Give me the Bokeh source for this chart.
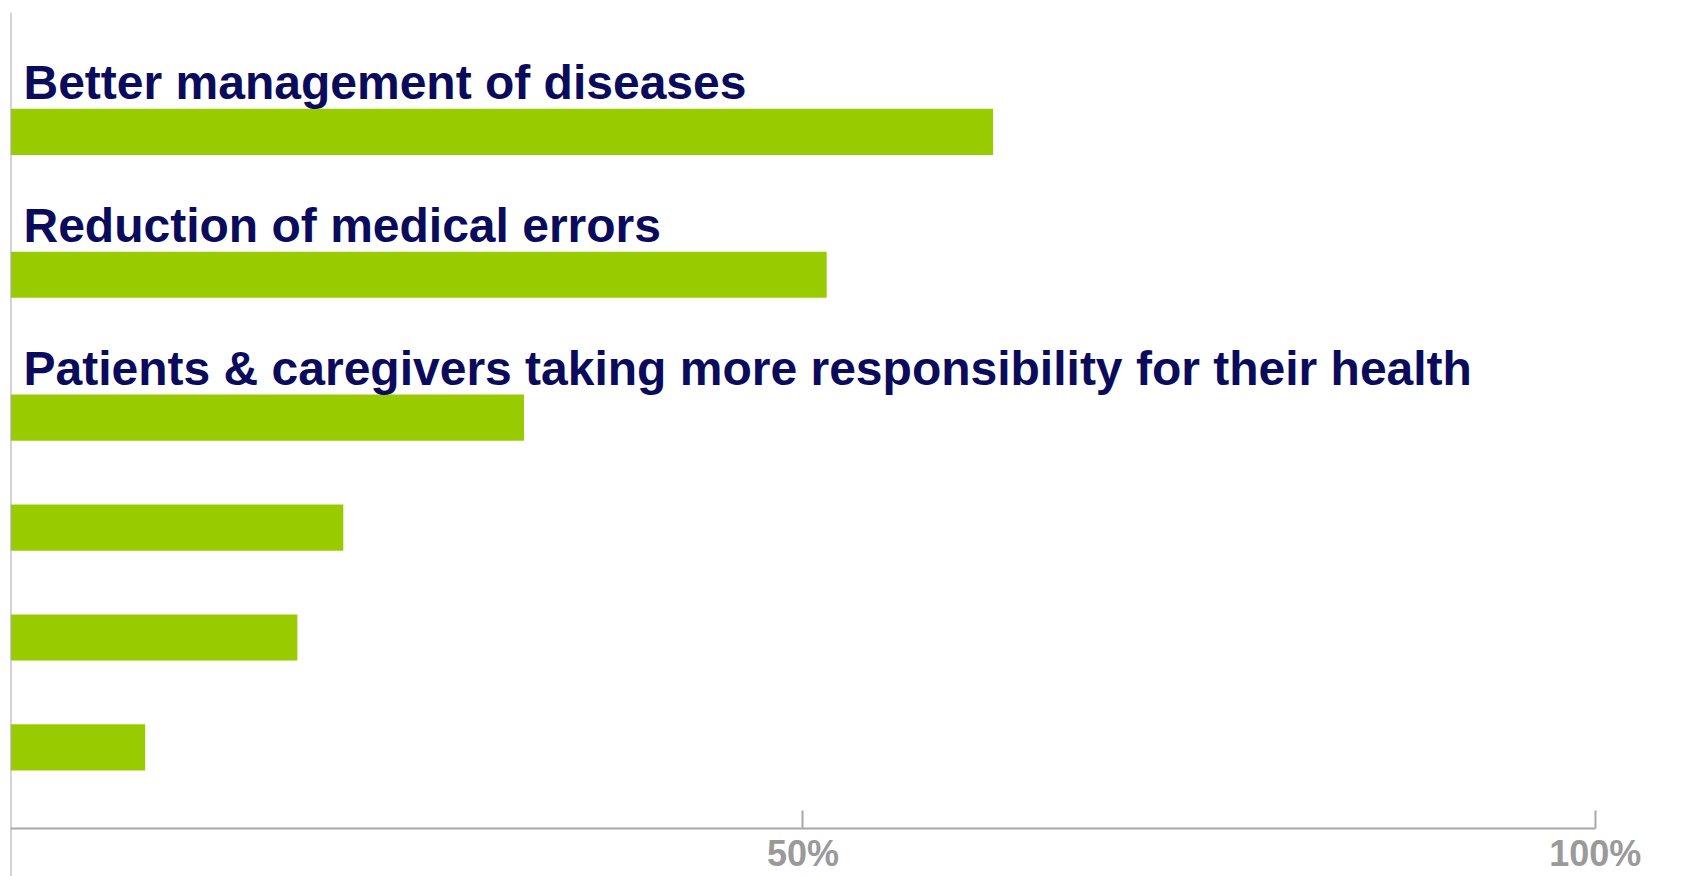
from bokeh.plotting import figure
from bokeh.models import Range1d, FixedTicker, ColumnDataSource
from bokeh.core.properties import value
from bokeh.embed import file_html
from bokeh.resources import INLINE

# ---- data ----
categories = [
    "Better management of diseases",
    "Reduction of medical errors",
    "Patients & caregivers taking more responsibility for their health",
    "",
    "",
    "",
]
shares = [62, 51.5, 32.4, 21, 18.1, 8.5]   # percent
tick_values = [50, 100]
tick_labels = ["50%", "100%"]

# ---- layout rule: rows with a caption get extra room ----
ROW = 1.0
CAPTION_GAP = 0.3
BAR_H = 0.42
pos = []
for i, c in enumerate(categories):
    if i == 0:
        pos.append(0.0)
    else:
        pos.append(pos[-1] + ROW + (CAPTION_GAP if c else 0.0))
ys = [-v for v in pos]
label_ys = [y + BAR_H / 2 + 0.08 for y in ys]

top = 1.086
bottom = -(pos[-1] + 1.174)
axis_y = -(pos[-1] + 0.74)

src = ColumnDataSource(dict(y=ys, share=shares, label=categories, ly=label_ys))

p = figure(width=1688, height=876, x_range=Range1d(0, 105.5), y_range=Range1d(bottom, top),
           output_backend="svg", toolbar_location=None,
           min_border_left=10, min_border_right=6, min_border_top=12, min_border_bottom=0)
p.outline_line_color = None
p.xgrid.visible = False
p.ygrid.visible = False
p.background_fill_color = "white"

p.hbar(y="y", left=0, right="share", height=BAR_H, source=src,
       fill_color="#99cc00", line_color=None)

p.text(x=0, y="ly", text="label", source=src, x_offset=13, y_offset=-17,
       text_font=value("Liberation Sans"), text_font_style="bold",
       text_font_size="48px", text_color="#0b0b5c", text_baseline="alphabetic")

ax = p.xaxis[0]
ax.fixed_location = axis_y
ax.bounds = (0, 100)
ax.ticker = FixedTicker(ticks=tick_values)
ax.major_label_overrides = {v: t for v, t in zip(tick_values, tick_labels)}
ax.axis_line_color = "#a8a8a8"
ax.axis_line_width = 2
ax.major_tick_line_color = "#a8a8a8"
ax.major_tick_line_width = 2
ax.major_tick_in = 18
ax.major_tick_out = 0
ax.minor_tick_line_color = None
ax.major_label_standoff = 4
ax.major_label_text_font = "Liberation Sans"
ax.major_label_text_font_style = "bold"
ax.major_label_text_font_size = "36px"
ax.major_label_text_color = "#9a9a9a"

ay = p.yaxis[0]
ay.fixed_location = 0
ay.ticker = FixedTicker(ticks=[])
ay.axis_line_color = "#a8a8a8"
ay.axis_line_width = 2
ay.major_tick_line_color = None
ay.minor_tick_line_color = None
ay.major_label_text_font_size = "0px"

open("out.html", "w").write(file_html(p, INLINE))
